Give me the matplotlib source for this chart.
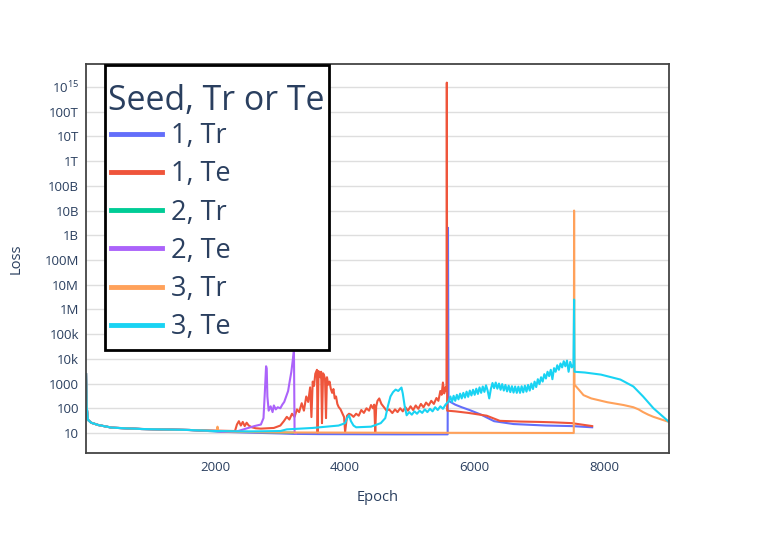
import matplotlib.pyplot as plt
from matplotlib.patches import Rectangle
from matplotlib.ticker import FixedLocator, NullLocator

plt.rcParams['font.family'] = ['Open Sans', 'DejaVu Sans']
plt.rcParams['mathtext.fontset'] = 'custom'
plt.rcParams['mathtext.rm'] = 'Open Sans'

# all six runs share the same first few hundred epochs
start = [(1, 2400), (10, 120), (30, 34), (80, 26), (190, 21), (400, 16.4), (850, 14.5), (1600, 13.2)]

tr1 = [(1900, 12), (2200, 11), (2600, 10.2), (3000, 9.6), (3200, 9.2), (3600, 9.0), (4200, 8.9),
       (4800, 8.8), (5300, 8.8), (5583, 8.8), (5588, 2.0e9), (5596, 200), (5700, 140), (5800, 110),
       (5920, 85), (6100, 55), (6300, 30), (6600, 23), (7100, 20), (7500, 19), (7814, 17)]

te1 = [(2000, 12.5), (2300, 12), (2330, 22), (2360, 30), (2390, 20), (2420, 28), (2450, 19), (2480, 26),
       (2512, 20), (2560, 17), (2620, 15.5), (2700, 15), (2800, 15.5), (2900, 16), (3000, 20), (3054, 30),
       (3100, 45), (3140, 35), (3180, 60), (3220, 45), (3256, 90), (3290, 70), (3330, 160), (3364, 80),
       (3400, 300), (3430, 180), (3460, 700), (3480, 44), (3500, 1200), (3520, 800), (3540, 2500),
       (3566, 3600), (3575, 10), (3590, 3200), (3615, 1800), (3630, 3000), (3643, 25), (3660, 2600),
       (3674, 2200), (3690, 1500), (3705, 40), (3720, 1800), (3740, 900), (3760, 1200), (3780, 600),
       (3800, 420), (3820, 600), (3840, 250), (3860, 300), (3880, 150), (3900, 113), (3930, 90),
       (3960, 60), (3984, 44), (4000, 11), (4030, 50), (4060, 60), (4093, 55), (4130, 45), (4170, 60),
       (4210, 50), (4250, 85), (4290, 65), (4330, 100), (4370, 80), (4400, 135), (4430, 100),
       (4450, 140), (4465, 11), (4480, 120), (4500, 200), (4527, 250), (4560, 150), (4600, 110),
       (4640, 80), (4680, 90), (4729, 64), (4770, 90), (4810, 70), (4850, 100), (4890, 75), (4930, 110),
       (4970, 80), (5010, 120), (5050, 85), (5090, 130), (5130, 95), (5170, 150), (5210, 110),
       (5250, 170), (5290, 130), (5330, 200), (5370, 150), (5410, 260), (5440, 200), (5470, 500),
       (5490, 350), (5510, 1100), (5530, 400), (5550, 700), (5565, 500), (5570, 1.5e15), (5576, 80),
       (5700, 75), (5900, 65), (6186, 50), (6388, 31), (6700, 29), (7000, 28), (7209, 27), (7500, 25),
       (7814, 19)]

tr2 = [(1900, 12), (2200, 11.5), (2600, 11), (3000, 10.5), (3200, 10.3), (3230, 10)]

te2 = [(2000, 12), (2100, 11), (2300, 11), (2470, 15), (2600, 19), (2700, 22), (2740, 40), (2760, 400),
       (2780, 5000), (2790, 4000), (2800, 300), (2820, 80), (2850, 120), (2880, 70), (2900, 130),
       (2930, 90), (2960, 110), (3000, 100), (3030, 140), (3060, 180), (3090, 300), (3120, 500),
       (3150, 1500), (3170, 3000), (3190, 8000), (3210, 22000), (3220, 10), (3240, 9.5)]

tr3 = [(1900, 12.5), (2020, 12), (2030, 18), (2040, 12), (2400, 11), (3000, 10.5), (5000, 10.2),
       (7530, 10), (7535, 1.0e10), (7541, 900), (7600, 600), (7680, 340), (7800, 250), (8050, 175),
       (8300, 135), (8450, 110), (8530, 90), (8600, 70), (8680, 55), (8760, 45), (8900, 34), (9000, 28)]

te3 = [(2000, 12), (2500, 11.5), (3000, 12), (3100, 14), (3500, 16), (3900, 20), (4000, 25), (4030, 40),
       (4060, 52), (4090, 30), (4130, 20), (4170, 17), (4400, 18), (4550, 25), (4620, 40), (4660, 120),
       (4700, 300), (4740, 450), (4780, 570), (4820, 500), (4870, 690), (4890, 400), (4920, 120),
       (4950, 52), (4990, 70), (5030, 55), (5070, 75), (5110, 60), (5150, 80), (5190, 65), (5230, 90),
       (5270, 70), (5310, 95), (5350, 75), (5390, 110), (5430, 85), (5470, 120), (5510, 95), (5550, 140),
       (5580, 170),
       (5600, 200), (5625, 300), (5650, 180), (5675, 320), (5700, 200), (5725, 350), (5750, 230),
       (5775, 390), (5800, 250), (5825, 420), (5850, 270), (5875, 470), (5900, 290), (5925, 520),
       (5950, 330), (5975, 560), (6000, 350), (6025, 620), (6050, 380), (6075, 700), (6100, 420),
       (6125, 760), (6150, 460), (6175, 850), (6200, 520), (6225, 250), (6250, 600), (6275, 1050),
       (6300, 650), (6325, 1100), (6350, 620), (6375, 1000), (6400, 560), (6425, 950), (6450, 520),
       (6475, 880), (6500, 480), (6525, 820), (6550, 450), (6575, 780), (6600, 430), (6625, 760),
       (6650, 420), (6675, 750), (6700, 420), (6725, 780), (6750, 440), (6775, 820), (6800, 470),
       (6825, 880), (6850, 520), (6875, 1000), (6900, 600), (6925, 1200), (6950, 720), (6975, 1500),
       (7000, 950), (7025, 1800), (7050, 1200), (7075, 2400), (7100, 1600), (7125, 3000), (7150, 2000),
       (7175, 3600), (7200, 1500), (7225, 4200), (7250, 3000), (7275, 5500), (7300, 3600), (7325, 6500),
       (7350, 4500), (7375, 8000), (7400, 5000), (7425, 8500), (7450, 3000), (7475, 7500), (7500, 4500),
       (7525, 6000),
       (7535, 2.5e6), (7541, 3000), (7700, 2800), (7950, 2300), (8250, 1450), (8450, 760), (8600, 300),
       (8760, 100), (9000, 28)]

labels = ["1, Tr", "1, Te", "2, Tr", "2, Te", "3, Tr", "3, Te"]
colors = ["#636efa", "#EF553B", "#00cc96", "#ab63fa", "#FFA15A", "#19d3f3"]

ytick_vals = [10 ** k for k in range(1, 16)]
ytick_text = ["10", "100", "1000", "10k", "100k", "1M", "10M", "100M", "1B", "10B", "100B",
              "1T", "10T", "100T", r"$10^{15}$"]
xtick_vals = [2000, 4000, 6000, 8000]

text_col = "#2a3f5f"
W, H = 761, 545

fig = plt.figure(figsize=(W / 100, H / 100), dpi=100)
ax = fig.add_axes([86 / W, 1 - 453 / H, 583 / W, 389 / H])

for lab, col, run in zip(labels, colors, [tr1, te1, tr2, te2, tr3, te3]):
    pts = start + run
    ax.plot([p[0] for p in pts], [p[1] for p in pts], color=col, lw=1.5, label=lab)

ax.set_yscale("log")
ax.set_xlim(0, 9000)
ax.set_ylim(10 ** 0.19, 10 ** 15.93)
ax.yaxis.set_major_locator(FixedLocator(ytick_vals))
ax.yaxis.set_minor_locator(NullLocator())
ax.set_yticklabels(ytick_text)
ax.set_xticks(xtick_vals)
ax.set_xticklabels([str(v) for v in xtick_vals])
ax.tick_params(length=0, labelsize=9.5, labelcolor=text_col)
ax.tick_params(axis="y", pad=5)
ax.tick_params(axis="x", pad=6)
ax.grid(axis="y", color="#dedede", lw=1)
ax.set_axisbelow(True)
for sp in ax.spines.values():
    sp.set_color("#444444")
    sp.set_linewidth(1.3)

ax.set_xlabel("Epoch", fontsize=10.5, color=text_col, labelpad=11)
ax.set_ylabel("Loss", fontsize=10.5, color=text_col, labelpad=15)

# legend box drawn by hand so the padding matches the plotly one
box = Rectangle((105 / W, 1 - 350 / H), 224 / W, 285 / H, transform=fig.transFigure,
                facecolor="white", edgecolor="black", lw=2, zorder=4.5, clip_on=False)
ax.add_patch(box)
fig.text(108 / W, 1 - 110 / H, "Seed, Tr or Te", fontsize=24.4, color=text_col, va="baseline",
         zorder=6)

leg = ax.legend(loc="upper left", bbox_to_anchor=(111 / W, 1 - 122 / H),
                bbox_transform=fig.transFigure, borderaxespad=0, borderpad=0, frameon=False,
                fontsize=19.5, handlelength=1.9, handletextpad=0.3, labelspacing=0.38,
                labelcolor=text_col)
for h in leg.get_lines():
    h.set_linewidth(3.5)

fig.savefig("out.png", dpi=100)
